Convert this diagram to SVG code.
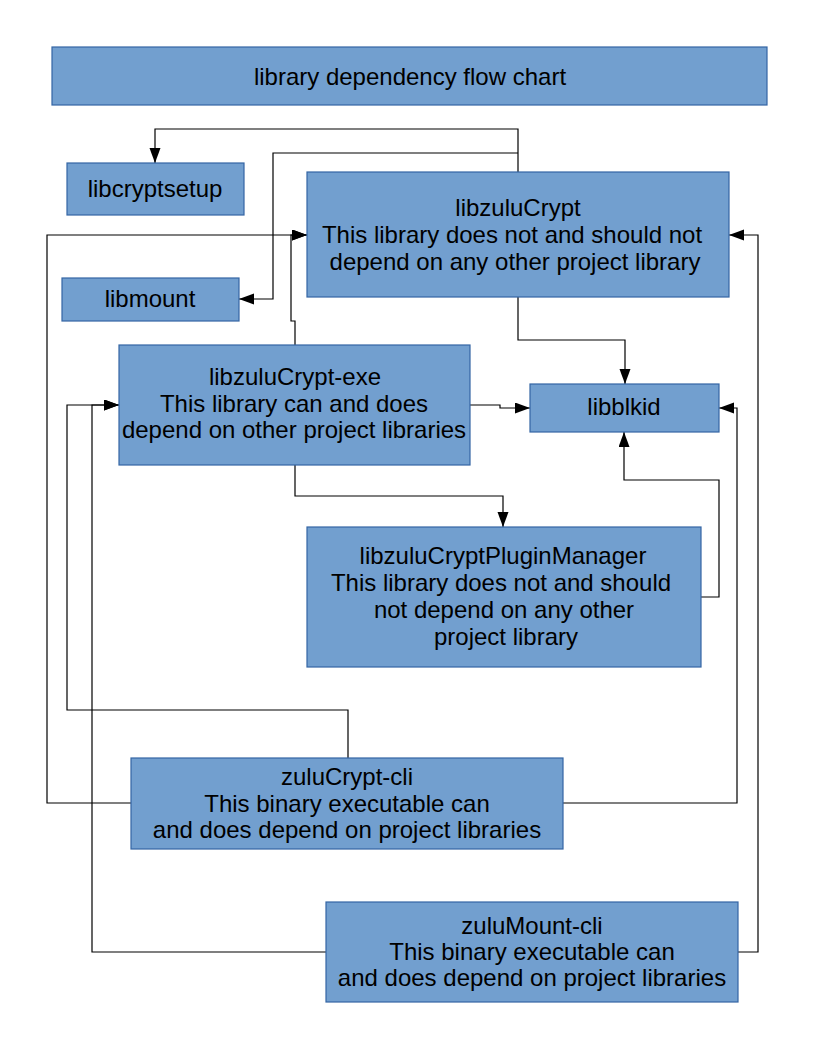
<svg xmlns="http://www.w3.org/2000/svg" width="816" height="1056" viewBox="0 0 816 1056">
<defs>
<style>
.box{fill:#729fcf;stroke:#3465a4;stroke-width:1.2}
.t{font-family:"Liberation Sans",Arial,sans-serif;font-size:24px;fill:#000;text-anchor:middle}
.c{fill:none;stroke:#000;stroke-width:1.2;marker-end:url(#ah)}
.n{fill:none;stroke:#000;stroke-width:1.2}
</style>
<marker id="ah" markerUnits="userSpaceOnUse" markerWidth="16" markerHeight="12" refX="15" refY="5.5" orient="auto">
<path d="M0,0 L15,5.5 L0,11 Z" fill="#000"/>
</marker>
</defs>
<rect width="816" height="1056" fill="#fff"/>
<g id="connectors">
<path class="c" d="M518,172 V129 H155 V163"/>
<path class="c" d="M518,153 H273 V299 H239"/>
<path class="c" d="M518,297 V340 H625 V384"/>
<path class="c" d="M295,345 V321 H291 V235 H307"/>
<path class="c" d="M470,405 H500 V408 H530"/>
<path class="c" d="M295,465 V496 H503 V527"/>
<path class="c" d="M701,597 H719 V480 H624 V432"/>
<path class="c" d="M131,803 H47 V235 H307"/>
<path class="c" d="M348,758 V710 H67 V405 H119"/>
<path class="c" d="M563,803 H737 V408 H719"/>
<path class="c" d="M326,952 H92 V405 H119"/>
<path class="c" d="M738,952 H758 V235 H729"/>
</g>
<g id="title">
<rect class="box" x="52" y="47" width="715" height="58"/>
<text class="t" x="410" y="85">library dependency flow chart</text>
</g>
<g id="libcryptsetup">
<rect class="box" x="67" y="163" width="177" height="52"/>
<text class="t" x="155" y="197">libcryptsetup</text>
</g>
<g id="libmount">
<rect class="box" x="62" y="278" width="177" height="43"/>
<text class="t" x="150" y="307">libmount</text>
</g>
<g id="libzuluCrypt">
<rect class="box" x="307" y="172" width="422" height="125"/>
<text class="t" x="518" y="216">libzuluCrypt</text>
<text class="t" x="512" y="243">This library does not and should not</text>
<text class="t" x="515" y="270">depend on any other project library</text>
</g>
<g id="libblkid">
<rect class="box" x="530" y="384" width="189" height="48"/>
<text class="t" x="624" y="415">libblkid</text>
</g>
<g id="libzuluCrypt-exe">
<rect class="box" x="119" y="345" width="351" height="120"/>
<text class="t" x="295" y="385">libzuluCrypt-exe</text>
<text class="t" x="294" y="412">This library can and does</text>
<text class="t" x="294" y="438">depend on other project libraries</text>
</g>
<g id="libzuluCryptPluginManager">
<rect class="box" x="307" y="527" width="394" height="140"/>
<text class="t" x="503" y="564">libzuluCryptPluginManager</text>
<text class="t" x="501" y="591">This library does not and should</text>
<text class="t" x="504" y="618">not depend on any other</text>
<text class="t" x="506" y="645">project library</text>
</g>
<g id="zuluCrypt-cli">
<rect class="box" x="131" y="758" width="432" height="91"/>
<text class="t" x="347" y="785">zuluCrypt-cli</text>
<text class="t" x="347" y="812">This binary executable can</text>
<text class="t" x="347" y="838">and does depend on project libraries</text>
</g>
<g id="zuluMount-cli">
<rect class="box" x="326" y="902" width="412" height="100"/>
<text class="t" x="532" y="934">zuluMount-cli</text>
<text class="t" x="532" y="960">This binary executable can</text>
<text class="t" x="532" y="986">and does depend on project libraries</text>
</g>
</svg>
